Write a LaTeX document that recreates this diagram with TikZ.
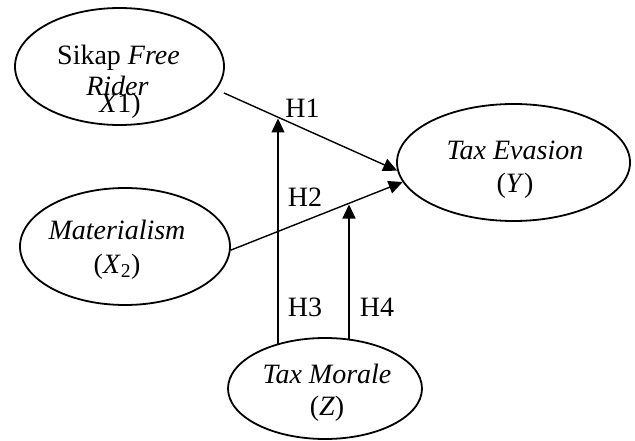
\documentclass[tikz,border=0pt]{standalone}
\usepackage{fontspec}
\setmainfont{Liberation Serif}
\usetikzlibrary{shapes.geometric,arrows.meta}
\begin{document}
\begin{tikzpicture}[x=1pt,y=-1pt,
  ell/.style={draw,ellipse,line width=1.8pt,inner sep=0pt},
  lbl/.style={font=\fontsize{28}{30}\selectfont,inner sep=0pt,anchor=base},
  arr/.style={line width=1.4pt,-{Triangle[length=14pt,width=13pt]}}]
\useasboundingbox (0,0) rectangle (635,441);
% ellipses
\node[ell,minimum width=209pt,minimum height=117pt] (sfr) at (119.5,66.5) {};
\node[ell,minimum width=210pt,minimum height=117pt] (mat) at (125,246.5) {};
\node[ell,minimum width=233pt,minimum height=117pt] (te) at (513.5,162.5) {};
\node[ell,minimum width=194pt,minimum height=101pt] (tm) at (325,388.5) {};
% texts
\node[lbl] (t1a) at (118.5,65) {Sikap \textit{Free}};
\node[lbl] (t1b) at (117.5,96) {\textit{Rider}};
\node[lbl] (t1c) at (120,113) {\textit{X}1)};
\node[lbl] (t2a) at (117,240) {\textit{Materialism}};
\node[lbl] (t2b) at (117,273) {(\textit{X}\textsubscript{2})};
\node[lbl] (t3a) at (515,160) {\textit{Tax Evasion}};
\node[lbl] (t3b) at (515,193) {(\textit{Y})};
\node[lbl] (t4a) at (327,383) {\textit{Tax Morale}};
\node[lbl] (t4b) at (327,415) {(\textit{Z})};
% connector end points
\coordinate (h1s) at (224,93);
\coordinate (h3s) at (278,344.5);
\coordinate (h3e) at (278,118.5);
\coordinate (h4s) at (349,339.5);
\coordinate (h4e) at (349,204.5);
% connectors
\draw[arr] (h1s) -- (te.184);
\draw[arr] (mat.-2) -- (te.190);
\draw[arr] (h3s) -- (h3e);
\draw[arr] (h4s) -- (h4e);
% labels
\node[lbl] (H1) at (302.5,118) {H1};
\node[lbl] (H2) at (305,207) {H2};
\node[lbl] (H3) at (305,316) {H3};
\node[lbl] (H4) at (377,316) {H4};
\end{tikzpicture}
\end{document}
